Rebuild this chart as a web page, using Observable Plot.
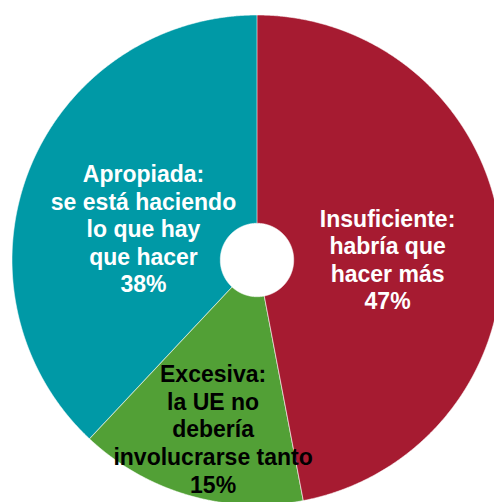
<!DOCTYPE html>
<html><head><meta charset="utf-8">
<script src="https://cdn.jsdelivr.net/npm/d3@7"></script>
<script src="https://cdn.jsdelivr.net/npm/@observablehq/plot@0.6"></script>
<style>html,body{margin:0;padding:0;background:#fff;overflow:hidden}#chart svg{display:block}</style>
</head><body><div id="chart"></div>
<script>
// ---- data ----
const categories = ["Insuficiente", "Excesiva", "Apropiada"];
const shares = [47, 15, 38];
const labels = [
  "Insuficiente:\nhabría que\nhacer más\n47%",
  "Excesiva:\nla UE no\ndebería\ninvolucrarse tanto\n15%",
  "Apropiada:\nse está haciendo\nlo que hay\nque hacer\n38%"
];
const colors = ["#A61B31", "#52A036", "#0099A6"];
const textColors = ["#ffffff", "#000000", "#ffffff"];

// ---- layout ----
const W = 494, H = 502;
const cx = 256.5, cy = 259.5, R = 245, holeFrac = 0.15;
const labelRadius = [0.533, 0.711, 0.481];
const labelTurnDeg = [5.0, -1.6, -6.0];

const pie = d3.pie().sort(null).value(d => d)(shares);
const slicePts = [];
pie.forEach((p, i) => {
  const n = Math.max(8, Math.ceil((p.endAngle - p.startAngle) / 0.004));
  for (let k = 0; k <= n; k++) {
    const a = p.startAngle + (p.endAngle - p.startAngle) * k / n;
    slicePts.push({cat: categories[i], x: Math.sin(a), y: Math.cos(a)});
  }
  for (let k = n; k >= 0; k--) {
    const a = p.startAngle + (p.endAngle - p.startAngle) * k / n;
    slicePts.push({cat: categories[i], x: holeFrac * Math.sin(a), y: holeFrac * Math.cos(a)});
  }
});

const labelMarks = pie.map((p, i) => {
  const a = (p.startAngle + p.endAngle) / 2 + labelTurnDeg[i] * Math.PI / 180;
  const d = [{x: labelRadius[i] * Math.sin(a), y: labelRadius[i] * Math.cos(a), t: labels[i]}];
  return Plot.text(d, {
    x: "x", y: "y", text: "t",
    fill: textColors[i],
    fontSize: 23, fontWeight: "bold",
    fontFamily: "'Liberation Sans', Arial, sans-serif",
    lineHeight: 1.2, lineAnchor: "middle", textAnchor: "middle"
  });
});

const chart = Plot.plot({
  width: W, height: H, margin: 0,
  style: {background: "white", overflow: "hidden"},
  x: {domain: [(0 - cx) / R, (W - cx) / R], axis: null},
  y: {domain: [(cy - H) / R, cy / R], axis: null},
  color: {domain: categories, range: colors},
  marks: [
    Plot.line(slicePts, {x: "x", y: "y", z: "cat", fill: "cat", stroke: "white", strokeWidth: 0.8, strokeOpacity: 0.7, curve: "linear-closed", clip: true}),
    ...labelMarks
  ]
});
document.getElementById("chart").appendChild(chart);
</script>
</body></html>
